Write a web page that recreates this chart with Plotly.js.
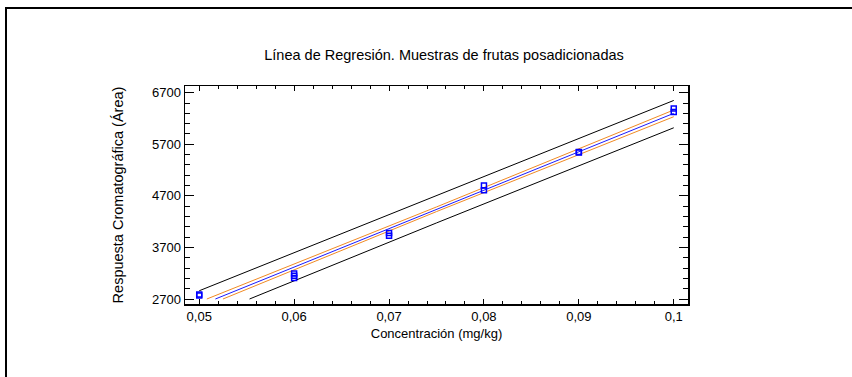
<!DOCTYPE html>
<html>
<head>
<meta charset="utf-8">
<script src="https://cdn.plot.ly/plotly-3.0.1.min.js"></script>
<style>
  html, body { margin: 0; padding: 0; background: #fff; overflow: hidden; }
  #wrap { position: relative; width: 852px; height: 377px; overflow: hidden; }
  #frame { position: absolute; left: 5px; top: 7px; width: 847px; height: 370px;
           border-left: 2px solid #000; border-top: 2px solid #000; border-right: 0; border-bottom: 0;
           box-sizing: border-box; }
  #chart { position: absolute; left: 0; top: 0; width: 852px; height: 377px; }
</style>
</head>
<body>
<div id="wrap">
  <div id="chart"></div>
  <div id="frame"></div>
</div>
<script>
// Observations (concentration mg/kg, chromatographic area)
const obsX = [0.05, 0.05, 0.06, 0.06, 0.06, 0.07, 0.07, 0.08, 0.08, 0.09, 0.09, 0.1, 0.1];
const obsY = [2770, 2785, 3195, 3150, 3105, 3980, 3925, 4900, 4810, 5540, 5550, 6395, 6325];

// Fitted line and limits
const fitX = [0.0517, 0.1];
const fitY = [2700, 6300];
const confUpX = [0.0508, 0.075, 0.1];
const confUpY = [2700, 4485, 6365];
const confLoX = [0.0525, 0.075, 0.1];
const confLoY = [2700, 4395, 6235];
const predUpX = [0.05, 0.075, 0.1];
const predUpY = [2860, 4700, 6550];
const predLoX = [0.0553, 0.075, 0.1];
const predLoY = [2700, 4175, 6020];

const xTickVals = [0.05, 0.06, 0.07, 0.08, 0.09, 0.1];
const yTickVals = [2700, 3700, 4700, 5700, 6700];

const titleText = 'Línea de Regresión. Muestras de frutas posadicionadas';
const xTitle = 'Concentración (mg/kg)';
const yTitle = 'Respuesta Cromatográfica (Área)';

const orange = '#f08a24';
const blue = '#1a1aff';

const traces = [
  {x: predUpX, y: predUpY, mode: 'lines', line: {color: '#000', width: 1}, hoverinfo: 'skip'},
  {x: predLoX, y: predLoY, mode: 'lines', line: {color: '#000', width: 1}, hoverinfo: 'skip'},
  {x: confUpX, y: confUpY, mode: 'lines', line: {color: orange, width: 1}, hoverinfo: 'skip'},
  {x: confLoX, y: confLoY, mode: 'lines', line: {color: orange, width: 1}, hoverinfo: 'skip'},
  {x: fitX, y: fitY, mode: 'lines', line: {color: blue, width: 1}, hoverinfo: 'skip'},
  {x: obsX, y: obsY, mode: 'markers',
   marker: {symbol: 'square-open', size: 5, color: '#0000ff', line: {width: 1.5, color: '#0000ff'}}}
];

const fam = 'Liberation Sans, Arial, sans-serif';
const tickFont = {family: fam, size: 13, color: '#000'};

const layout = {
  width: 852, height: 377,
  margin: {l: 185, r: 164, t: 86, b: 73},
  paper_bgcolor: '#fff', plot_bgcolor: '#fff',
  showlegend: false,
  separators: ',.',
  font: tickFont,
  title: {text: titleText, font: {family: fam, size: 14.5, color: '#000'},
          x: 0.515, xanchor: 'center', y: 0.855, yanchor: 'middle', xref: 'paper'},
  xaxis: {
    range: [0.0485, 0.1015], tickvals: xTickVals,
    ticks: 'inside', ticklen: 5, tickwidth: 1, tickcolor: '#000',
    minor: {dtick: 0.002, tick0: 0.05, ticks: 'inside', ticklen: 3, tickwidth: 1, tickcolor: '#000'},
    showline: true, linewidth: 1.5, linecolor: '#000', mirror: 'allticks',
    showgrid: false, zeroline: false,
    tickfont: tickFont,
    title: {text: xTitle, font: {family: fam, size: 13, color: '#000'}, standoff: 6}
  },
  yaxis: {
    range: [2603, 6830], tickvals: yTickVals,
    ticks: 'inside', ticklen: 9, tickwidth: 1, tickcolor: '#000',
    minor: {dtick: 200, tick0: 2700, ticks: 'inside', ticklen: 5, tickwidth: 1, tickcolor: '#000'},
    showline: true, linewidth: 1.5, linecolor: '#000', mirror: 'allticks',
    showgrid: false, zeroline: false,
    tickfont: tickFont,
    title: {text: yTitle, font: {family: fam, size: 14.5, color: '#000'}, standoff: 25}
  }
};

Plotly.newPlot('chart', traces, layout, {staticPlot: true, displayModeBar: false});
</script>
</body>
</html>
